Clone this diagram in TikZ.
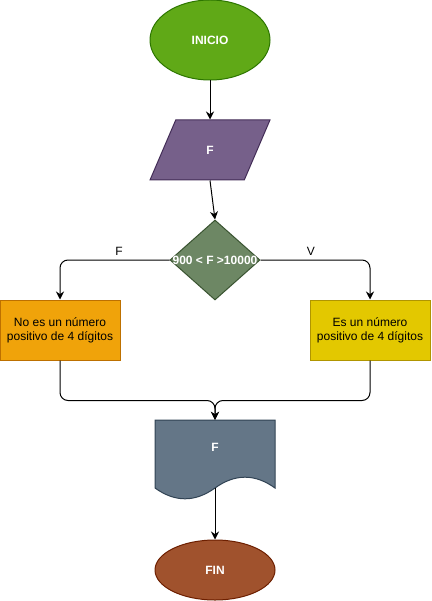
\documentclass[tikz,border=0pt]{standalone}
\usepackage{fontspec}
\setmainfont{Liberation Sans}
\usepackage{tikz}
\usetikzlibrary{
	arrows.meta,
	calc,
	positioning,
	shapes.geometric,
	}

\definecolor{inicioFill}{HTML}{60A917}
\definecolor{inicioLine}{HTML}{2D7600}
\definecolor{leerFill}{HTML}{76608A}
\definecolor{leerLine}{HTML}{432D57}
\definecolor{condFill}{HTML}{6D8764}
\definecolor{condLine}{HTML}{3A5431}
\definecolor{noFill}{HTML}{F0A30A}
\definecolor{noLine}{HTML}{BD7000}
\definecolor{siFill}{HTML}{E3C800}
\definecolor{siLine}{HTML}{B09500}
\definecolor{docFill}{HTML}{647687}
\definecolor{docLine}{HTML}{314354}
\definecolor{finFill}{HTML}{A0522D}
\definecolor{finLine}{HTML}{6D1F00}

\tikzset{
	txt/.style={font=\fontsize{12}{14}\selectfont},
	wtxt/.style={txt, text=white, font=\fontsize{12}{14}\selectfont\bfseries},
	terminal/.style={ellipse, draw, line width=1pt, wtxt, inner sep=0pt},
	flecha/.style={-{Stealth[length=8pt,width=8pt]}, line width=1pt},
	caja/.style={draw, line width=1pt, txt, minimum width=120pt, minimum height=60pt, inner sep=0pt, align=center},
}

\begin{document}
\begin{tikzpicture}[x=1pt, y=-1pt]
	\useasboundingbox (0,0) rectangle (431,601);
	% documento (forma de fondo)
	\path[fill=docFill, draw=docLine, line width=1pt] (155,420) -- (275,420) -- (275,488)
		.. controls (255,473.6) and (235,473.6) .. (215,488)
		.. controls (195,502.4) and (175,502.4) .. (155,488) -- cycle;

	\node[terminal, fill=inicioFill, draw=inicioLine, minimum width=120pt, minimum height=80pt] (inicio) at (210,40) {INICIO};
	\node[trapezium, trapezium left angle=71.57, trapezium right angle=108.43, trapezium stretches=true,
		draw=leerLine, fill=leerFill, line width=1pt, wtxt, minimum width=120pt, minimum height=60pt, inner sep=0pt] (leer) at (210,150) {F};
	\node[diamond, draw=condLine, fill=condFill, line width=1pt, minimum width=90pt, minimum height=80pt, inner sep=0pt,
		label={[wtxt]center:900 < F >10000}] (cond) at (215,260) {};
	\node[caja, fill=noFill, draw=noLine] (nofour) at (60,330) {No es un número\\positivo de 4 dígitos};
	\node[caja, fill=siFill, draw=siLine] (four) at (370,330) {Es un número\\positivo de 4 dígitos};
	\node[wtxt, minimum width=120pt, minimum height=54pt, inner sep=0pt] (salida) at (215,447) {F};
	\coordinate (docfoot) at (215,488);
	\node[terminal, fill=finFill, draw=finLine, minimum width=120pt, minimum height=60pt] (fin) at (215,570) {FIN};

	\draw[flecha] (inicio) -- (leer);
	\draw[flecha] (leer.south) -- (cond.north);
	\draw[flecha, rounded corners=8pt] (cond.west) -| node[txt, pos=0.23, above=1pt] {F} (nofour.north);
	\draw[flecha, rounded corners=8pt] (cond.east) -| node[txt, pos=0.23, above=1pt] {V} (four.north);
	\draw[flecha, rounded corners=8pt] (nofour.south) -- ++(0,40) -| (salida.north);
	\draw[flecha, rounded corners=8pt] (four.south) -- ++(0,40) -| (salida.north);
	\draw[flecha] (docfoot) -- (fin.north);
\end{tikzpicture}
\end{document}
